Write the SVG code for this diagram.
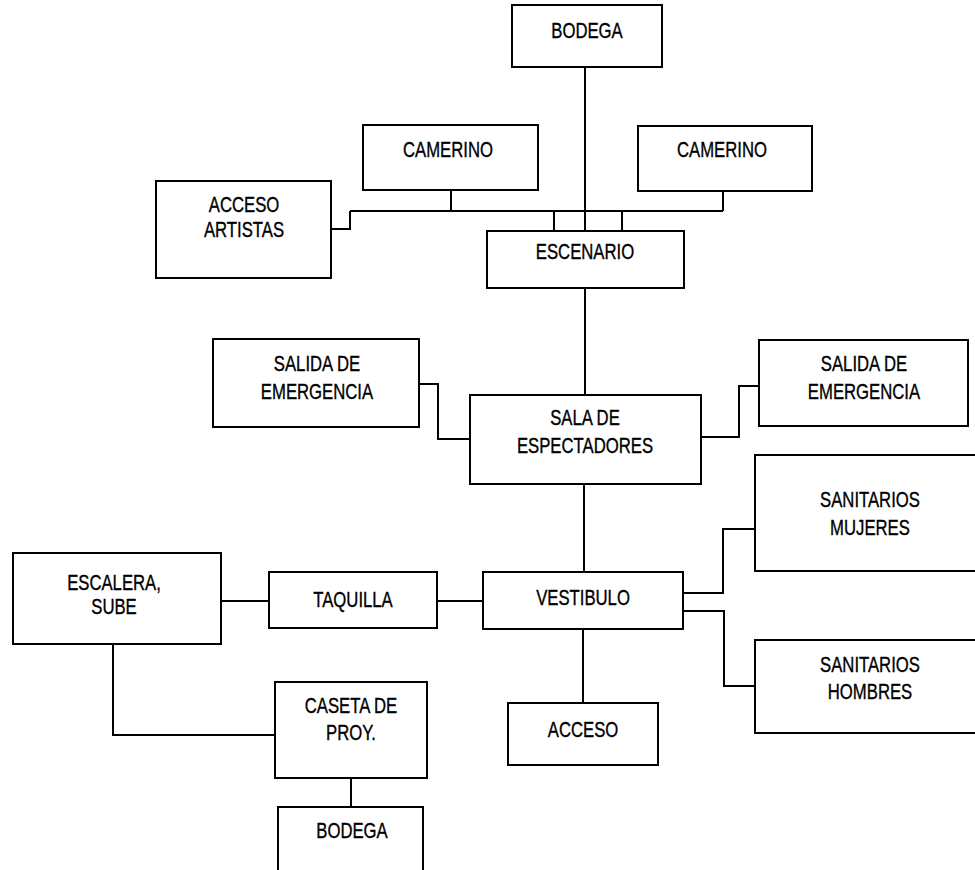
<svg xmlns="http://www.w3.org/2000/svg" width="975" height="870" viewBox="0 0 975 870">
  <style>
    .box { fill: none; stroke: #000; stroke-width: 2; }
    .wire { fill: none; stroke: #000; stroke-width: 2; }
    .lbl { font-family: "Liberation Sans", Arial, sans-serif; font-size: 22px; fill: #000; text-anchor: middle; stroke: #000; stroke-width: 0.35; }
  </style>
  <rect width="975" height="870" fill="#fff"/>

  <g id="connectors">
    <path class="wire" d="M585 67 V231"/>
    <path class="wire" d="M350 211 H723"/>
    <path class="wire" d="M451 190 V211"/>
    <path class="wire" d="M723 191 V211"/>
    <path class="wire" d="M554 211 V231"/>
    <path class="wire" d="M622 211 V231"/>
    <path class="wire" d="M350 211 V229 H331"/>
    <path class="wire" d="M585 288 V395"/>
    <path class="wire" d="M419 384 H438 V439 H470"/>
    <path class="wire" d="M701 437 H739 V386 H759"/>
    <path class="wire" d="M584 484 V572"/>
    <path class="wire" d="M583 629 V703"/>
    <path class="wire" d="M683 593 H723 V529 H755"/>
    <path class="wire" d="M683 611 H724 V686 H755"/>
    <path class="wire" d="M221 601 H269"/>
    <path class="wire" d="M437 601 H483"/>
    <path class="wire" d="M113 644 V735 H275"/>
    <path class="wire" d="M351 778 V807"/>
  </g>

  <g id="bodega-escenario">
    <rect class="box" x="512" y="5" width="150" height="62"/>
    <text class="lbl" transform="translate(587 38) scale(0.76 1)">BODEGA</text>
  </g>

  <g id="camerino-izq">
    <rect class="box" x="363" y="125" width="175" height="65"/>
    <text class="lbl" transform="translate(448 157) scale(0.76 1)">CAMERINO</text>
  </g>

  <g id="camerino-der">
    <rect class="box" x="638" y="126" width="174" height="65"/>
    <text class="lbl" transform="translate(722 157) scale(0.76 1)">CAMERINO</text>
  </g>

  <g id="acceso-artistas">
    <rect class="box" x="156" y="181" width="175" height="97"/>
    <text class="lbl" transform="translate(244 212) scale(0.76 1)"><tspan x="0" y="0">ACCESO</tspan><tspan x="0" y="25">ARTISTAS</tspan></text>
  </g>

  <g id="escenario">
    <rect class="box" x="487" y="231" width="197" height="57"/>
    <text class="lbl" transform="translate(585 259) scale(0.76 1)">ESCENARIO</text>
  </g>

  <g id="salida-izq">
    <rect class="box" x="213" y="339" width="206" height="88"/>
    <text class="lbl" transform="translate(317 371) scale(0.76 1)"><tspan x="0" y="0">SALIDA DE</tspan><tspan x="0" y="28">EMERGENCIA</tspan></text>
  </g>

  <g id="salida-der">
    <rect class="box" x="759" y="340" width="209" height="86"/>
    <text class="lbl" transform="translate(864 371) scale(0.76 1)"><tspan x="0" y="0">SALIDA DE</tspan><tspan x="0" y="28">EMERGENCIA</tspan></text>
  </g>

  <g id="sala-espectadores">
    <rect class="box" x="470" y="395" width="231" height="89"/>
    <text class="lbl" transform="translate(585 425) scale(0.76 1)"><tspan x="0" y="0">SALA DE</tspan><tspan x="0" y="28">ESPECTADORES</tspan></text>
  </g>

  <g id="sanitarios-mujeres">
    <path class="box" d="M976 455 H755 V571 H976"/>
    <text class="lbl" transform="translate(870 507) scale(0.76 1)"><tspan x="0" y="0">SANITARIOS</tspan><tspan x="0" y="28">MUJERES</tspan></text>
  </g>

  <g id="sanitarios-hombres">
    <path class="box" d="M976 640 H755 V733 H976"/>
    <text class="lbl" transform="translate(870 672) scale(0.76 1)"><tspan x="0" y="0">SANITARIOS</tspan><tspan x="0" y="27">HOMBRES</tspan></text>
  </g>

  <g id="vestibulo">
    <rect class="box" x="483" y="572" width="200" height="57"/>
    <text class="lbl" transform="translate(583 605) scale(0.76 1)">VESTIBULO</text>
  </g>

  <g id="taquilla">
    <rect class="box" x="269" y="572" width="168" height="56"/>
    <text class="lbl" transform="translate(353 607) scale(0.76 1)">TAQUILLA</text>
  </g>

  <g id="escalera">
    <rect class="box" x="13" y="553" width="208" height="91"/>
    <text class="lbl" transform="translate(114 590) scale(0.76 1)"><tspan x="0" y="0">ESCALERA,</tspan><tspan x="0" y="24">SUBE</tspan></text>
  </g>

  <g id="acceso">
    <rect class="box" x="508" y="703" width="150" height="62"/>
    <text class="lbl" transform="translate(583 737) scale(0.76 1)">ACCESO</text>
  </g>

  <g id="caseta-proy">
    <rect class="box" x="275" y="682" width="152" height="96"/>
    <text class="lbl" transform="translate(351 713) scale(0.76 1)"><tspan x="0" y="0">CASETA DE</tspan><tspan x="0" y="27">PROY.</tspan></text>
  </g>

  <g id="bodega-proy">
    <path class="box" d="M278 871 V807 H423 V871"/>
    <text class="lbl" transform="translate(352 838) scale(0.76 1)">BODEGA</text>
  </g>
</svg>
